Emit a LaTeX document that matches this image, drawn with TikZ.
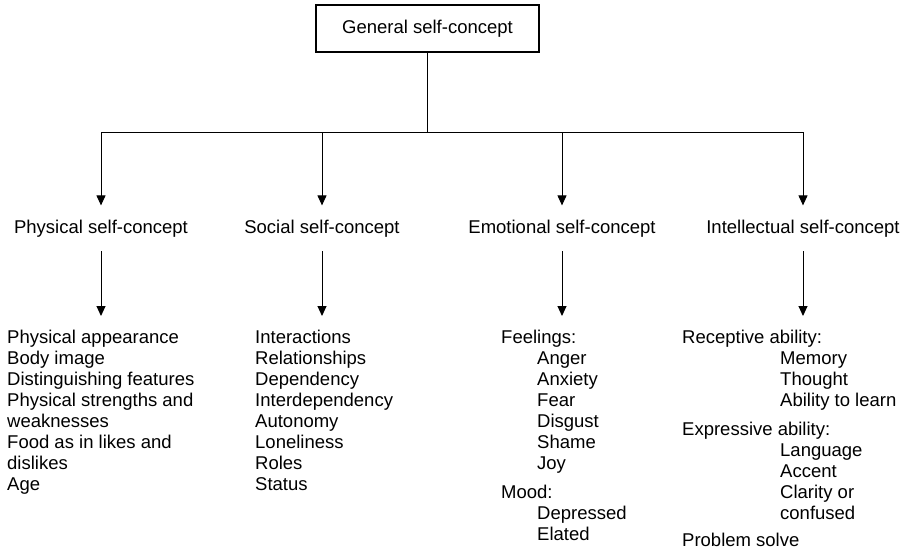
\documentclass[tikz,border=0pt]{standalone}
\usepackage{fontspec}
\setmainfont{Liberation Sans}
\usetikzlibrary{arrows.meta}
\begin{document}
\begin{tikzpicture}[x=1pt,y=-1pt,
  every node/.style={font=\fontsize{18.5}{21}\selectfont, text=black},
  topbox/.style={draw, line width=1.2pt, minimum width=223pt, minimum height=47pt, inner sep=0pt},
  lbl/.style={inner xsep=0pt, inner ysep=14pt, anchor=base},
  lst/.style={align=left, inner xsep=0pt, inner ysep=14pt, anchor=north west},
  conn/.style={line width=1pt},
  arr/.style={conn, -{Triangle[width=9pt,length=10pt]}}]
\useasboundingbox (0,0) rectangle (908,551);
\node[topbox] (gen) at (427.5,28.5) {General self-concept};
\coordinate (j) at (428,132);
\coordinate (hp) at (101,132);
\coordinate (hs) at (322,132);
\coordinate (he) at (562,132);
\coordinate (hi) at (803,132);
\node[lbl] (p) at (101,233) {Physical self-concept};
\node[lbl] (s) at (322,233) {Social self-concept};
\node[lbl] (e) at (562,233) {Emotional self-concept};
\node[lbl] (i) at (803,233) {Intellectual self-concept};
\draw[conn] (gen.south) -- (gen.south |- j);
\draw[conn] (hp) -- (hi);
\draw[arr] (hp) -- (p.north);
\draw[arr] (hs) -- (s.north);
\draw[arr] (he) -- (e.north);
\draw[arr] (hi) -- (i.north);
\node[lst] (lp) at (7,316) {Physical appearance\\Body image\\Distinguishing features\\Physical strengths and\\weaknesses\\Food as in likes and\\dislikes\\Age};
\node[lst] (ls) at (255,316) {Interactions\\Relationships\\Dependency\\Interdependency\\Autonomy\\Loneliness\\Roles\\Status};
\node[lst] (le) at (501,316) {Feelings:\\\hspace*{36pt}Anger\\\hspace*{36pt}Anxiety\\\hspace*{36pt}Fear\\\hspace*{36pt}Disgust\\\hspace*{36pt}Shame\\\hspace*{36pt}Joy\\[8pt]Mood:\\\hspace*{36pt}Depressed\\\hspace*{36pt}Elated};
\node[lst] (li) at (682,316) {Receptive ability:\\\hspace*{98pt}Memory\\\hspace*{98pt}Thought\\\hspace*{98pt}Ability to learn\\[8pt]Expressive ability:\\\hspace*{98pt}Language\\\hspace*{98pt}Accent\\\hspace*{98pt}Clarity or\\\hspace*{98pt}confused\\[6pt]Problem solve};
\draw[arr] (p.south) -- (p.south |- lp.north);
\draw[arr] (s.south) -- (s.south |- ls.north);
\draw[arr] (e.south) -- (e.south |- le.north);
\draw[arr] (i.south) -- (i.south |- li.north);
\end{tikzpicture}
\end{document}
